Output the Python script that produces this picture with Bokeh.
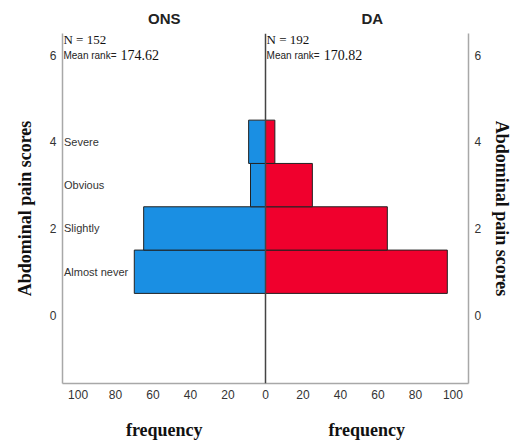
from bokeh.plotting import figure
from bokeh.models import Range1d, LinearAxis, FixedTicker, Label, Span
from bokeh.embed import file_html
from bokeh.resources import INLINE

categories = ["Almost never", "Slightly", "Obvious", "Severe"]
scores = [1, 2, 3, 4]
ons_freq = [70, 65, 8, 9]
da_freq = [97, 65, 25, 5]
x_ticks = [-100, -80, -60, -40, -20, 0, 20, 40, 60, 80, 100]
y_ticks = [0, 2, 4, 6]
groups = ["ONS", "DA"]
group_label_pos = [-54, 57]
freq_label_pos = [-54, 54]
n_values = [152, 192]
mean_ranks = [174.62, 170.82]

BLUE = "#1A8FE3"
RED = "#F0002D"
SERIF = "Liberation Serif"
SANS = "Liberation Sans"
GRAY = "#a8a8a8"

p = figure(output_backend="svg", toolbar_location=None,
           frame_width=406, frame_height=350,
           x_range=Range1d(-108.3, 108.3), y_range=Range1d(-1.58, 6.5),
           min_border_left=62, min_border_right=54, min_border_top=33, min_border_bottom=62,
           y_axis_location=None)
p.xgrid.visible = False
p.ygrid.visible = False
p.outline_line_color = None
p.background_fill_color = "white"
p.border_fill_color = "white"

# bars
p.hbar(y=scores, left=[-v for v in ons_freq], right=0, height=1.0,
       fill_color=BLUE, line_color="#222222", line_width=1)
p.hbar(y=scores, left=0, right=da_freq, height=1.0,
       fill_color=RED, line_color="#222222", line_width=1)

p.add_layout(Span(location=0, dimension="height", line_color="#444444", line_width=1.5))

# x axis (tick labels as absolute frequencies)
xa = p.xaxis[0]
xa.ticker = FixedTicker(ticks=x_ticks)
xa.major_label_overrides = {t: str(abs(t)) for t in x_ticks}
xa.major_tick_line_color = None
xa.major_tick_out = 0
xa.minor_tick_line_color = None
xa.minor_tick_out = 0
xa.axis_line_color = GRAY
xa.axis_line_width = 1.5
xa.major_label_text_font = SANS
xa.major_label_text_font_size = "12px"
xa.major_label_text_color = "#333333"
xa.major_label_standoff = 6

# "frequency" axis titles under each half
fa = LinearAxis(ticker=FixedTicker(ticks=freq_label_pos),
                major_label_overrides={t: "frequency" for t in freq_label_pos})
fa.axis_line_color = None
fa.major_tick_line_color = None
fa.major_tick_out = 0
fa.minor_tick_line_color = None
fa.minor_tick_out = 0
fa.major_label_text_font = SERIF
fa.major_label_text_font_style = "bold"
fa.major_label_text_font_size = "18px"
fa.major_label_text_color = "#111111"
fa.major_label_standoff = 18
p.add_layout(fa, "below")

# group titles above each half
ga = LinearAxis(ticker=FixedTicker(ticks=group_label_pos),
                major_label_overrides={t: g for t, g in zip(group_label_pos, groups)})
ga.axis_line_color = None
ga.major_tick_line_color = None
ga.major_tick_out = 0
ga.minor_tick_line_color = None
ga.minor_tick_out = 0
ga.major_label_text_font = SANS
ga.major_label_text_font_style = "bold"
ga.major_label_text_font_size = "15px"
ga.major_label_text_color = "#222222"
ga.major_label_standoff = 7
p.add_layout(ga, "above")

# y axes
for side, lab_off in [("left", 12), ("right", 8)]:
    ya = LinearAxis(ticker=FixedTicker(ticks=y_ticks), axis_label="Abdominal pain scores")
    ya.major_tick_line_color = None
    ya.major_tick_out = 0
    ya.minor_tick_line_color = None
    ya.minor_tick_out = 0
    ya.axis_line_color = GRAY
    ya.axis_line_width = 1.5
    ya.major_label_text_font = SANS
    ya.major_label_text_font_size = "12px"
    ya.major_label_text_color = "#333333"
    ya.major_label_standoff = 6
    ya.axis_label_text_font = SERIF
    ya.axis_label_text_font_style = "bold"
    ya.axis_label_text_font_size = "18px"
    ya.axis_label_text_color = "#111111"
    ya.axis_label_standoff = lab_off
    p.add_layout(ya, side)

# category labels
for c, s in zip(categories, scores):
    p.add_layout(Label(x=-107.5, y=s, text=c, text_font=SANS, text_font_size="11px",
                       text_color="#333333", text_baseline="middle", text_align="left"))

# N and mean rank annotations
for i, g in enumerate(groups):
    x0 = -107.8 if i == 0 else 0.6
    p.add_layout(Label(x=x0, y=6.35, text="N = %d" % n_values[i], text_font=SERIF,
                       text_font_size="13px", text_color="#111111",
                       text_align="left", text_baseline="middle"))
    p.add_layout(Label(x=x0, y=6.0, text="Mean rank=", text_font=SANS,
                       text_font_size="10px", text_color="#222222",
                       text_align="left", text_baseline="middle"))
    p.add_layout(Label(x=x0 + 30.5, y=6.0, text="%.2f" % mean_ranks[i], text_font=SERIF,
                       text_font_size="14px", text_color="#111111",
                       text_align="left", text_baseline="middle"))

open("out.html", "w").write(file_html(p, INLINE))
